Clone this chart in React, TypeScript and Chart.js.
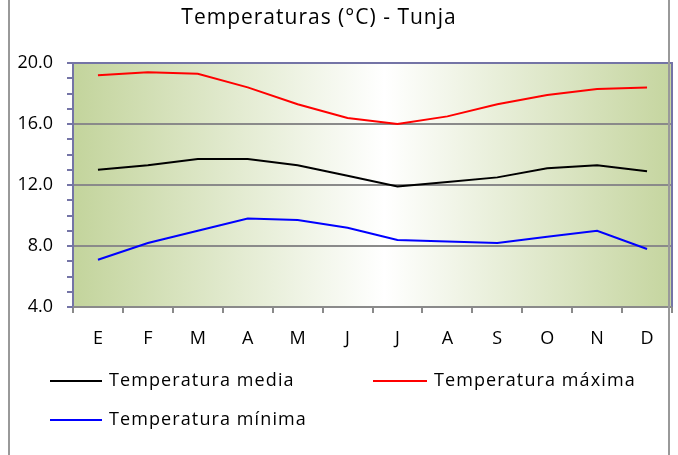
import React, { useEffect, useRef } from "react";
import { Chart, registerables } from "chart.js";

Chart.register(...registerables);

const title = "Temperaturas (°C) - Tunja";
const months = ["E", "F", "M", "A", "M", "J", "J", "A", "S", "O", "N", "D"];
const tempMedia = [13.0, 13.3, 13.7, 13.7, 13.3, 12.6, 11.9, 12.2, 12.5, 13.1, 13.3, 12.9];
const tempMaxima = [19.2, 19.4, 19.3, 18.4, 17.3, 16.4, 16.0, 16.5, 17.3, 17.9, 18.3, 18.4];
const tempMinima = [7.1, 8.2, 9.0, 9.8, 9.7, 9.2, 8.4, 8.3, 8.2, 8.6, 9.0, 7.8];
const seriesNames = ["Temperatura media", "Temperatura máxima", "Temperatura mínima"];
const seriesColors = ["#000000", "#ff0000", "#0000ff"];
const yMin = 4;
const yMax = 20;
const yStep = 4;

const FONT = "'Open Sans', 'DejaVu Sans', sans-serif";

const decorPlugin = {
  id: "decor",
  beforeDraw(chart: any) {
    const { ctx, chartArea } = chart;
    const { left, right, top, bottom } = chartArea;
    ctx.save();
    const g = ctx.createLinearGradient(left, 0, right, 0);
    g.addColorStop(0, "#c3d49c");
    g.addColorStop(0.52, "#ffffff");
    g.addColorStop(1, "#c5d59f");
    ctx.fillStyle = g;
    ctx.fillRect(left, top, right - left, bottom - top);
    ctx.restore();
  },
  afterDatasetsDraw(chart: any) {
    const { ctx, chartArea, scales } = chart;
    const { left, right, top, bottom } = chartArea;
    const y = scales.y;
    ctx.save();
    ctx.strokeStyle = "#7474a6";
    ctx.lineWidth = 2;
    for (let v = yMin; v <= yMax; v += 1) {
      const py = Math.round(y.getPixelForValue(v));
      ctx.beginPath();
      ctx.moveTo(left - 6, py);
      ctx.lineTo(left, py);
      ctx.stroke();
    }
    ctx.beginPath();
    ctx.moveTo(left - 6, top);
    ctx.lineTo(right, top);
    ctx.lineTo(right, bottom);
    ctx.stroke();
    ctx.beginPath();
    ctx.moveTo(left, top);
    ctx.lineTo(left, bottom);
    ctx.stroke();
    ctx.strokeStyle = "#8a8a8a";
    ctx.beginPath();
    ctx.moveTo(left, bottom);
    ctx.lineTo(right, bottom);
    ctx.stroke();
    ctx.restore();
  },
  afterDraw(chart: any) {
    const { ctx, height } = chart;
    ctx.save();
    ctx.strokeStyle = "#999999";
    ctx.lineWidth = 2;
    ctx.beginPath();
    ctx.moveTo(9, 0);
    ctx.lineTo(9, height);
    ctx.moveTo(669, 0);
    ctx.lineTo(669, height);
    ctx.stroke();
    ctx.fillStyle = "#000";
    ctx.font = `21px ${FONT}`;
    ctx.textAlign = "center";
    ctx.textBaseline = "middle";
    ctx.letterSpacing = "1px";
    ctx.fillText(title, 319, 18);
    const items = [
      { x: 50, y: 381, w: 52 },
      { x: 373, y: 381, w: 54 },
      { x: 50, y: 420, w: 52 },
    ];
    ctx.font = `18px ${FONT}`;
    ctx.textAlign = "left";
    ctx.letterSpacing = "1.1px";
    items.forEach((it, i) => {
      ctx.strokeStyle = seriesColors[i];
      ctx.lineWidth = 2;
      ctx.beginPath();
      ctx.moveTo(it.x, it.y);
      ctx.lineTo(it.x + it.w, it.y);
      ctx.stroke();
      ctx.fillStyle = "#000";
      ctx.fillText(seriesNames[i], it.x + it.w + 7, it.y);
    });
    ctx.restore();
  },
};

export default function App() {
  const ref = useRef<HTMLCanvasElement>(null);
  useEffect(() => {
    if (!ref.current) return;
    Chart.defaults.font.family = FONT;
    const data = [tempMedia, tempMaxima, tempMinima];
    const chart = new Chart(ref.current, {
      type: "line",
      data: {
        labels: months,
        datasets: data.map((d, i) => ({
          label: seriesNames[i],
          data: d,
          borderColor: seriesColors[i],
          backgroundColor: seriesColors[i],
          borderWidth: 2,
          pointRadius: 0,
          tension: 0,
          fill: false,
        })),
      },
      options: {
        responsive: false,
        animation: false,
        layout: { padding: { left: 0, right: 6, top: 63, bottom: 0 } },
        plugins: {
          legend: { display: false },
          title: { display: false },
          tooltip: { enabled: false },
        },
        scales: {
          x: {
            offset: true,
            grid: {
              offset: true,
              drawOnChartArea: false,
              drawTicks: true,
              tickLength: 6,
              color: "#8a8a8a",
              lineWidth: 2,
            },
            border: { display: false },
            ticks: {
              color: "#000",
              font: { size: 18 },
              padding: 15,
              maxRotation: 0,
              autoSkip: false,
            },
            afterFit: (s: any) => {
              s.height = 148;
            },
          },
          y: {
            min: yMin,
            max: yMax,
            grid: {
              drawTicks: false,
              color: (c: any) =>
                c.tick && (c.tick.value === yMin || c.tick.value === yMax) ? "rgba(0,0,0,0)" : "#8a8a8a",
              lineWidth: 2,
            },
            border: { display: false },
            ticks: {
              stepSize: yStep,
              color: "#000",
              font: { size: 18 },
              padding: 20,
              callback: (v: any) => Number(v).toFixed(1),
            },
            afterFit: (s: any) => {
              s.width = 73;
            },
          },
        },
      },
      plugins: [decorPlugin],
    });
    return () => chart.destroy();
  }, []);
  return (
    <div style={{ position: "absolute", left: 0, top: 0, width: 678, height: 455 }}>
      <canvas ref={ref} width={678} height={455} style={{ display: "block" }} />
    </div>
  );
}
